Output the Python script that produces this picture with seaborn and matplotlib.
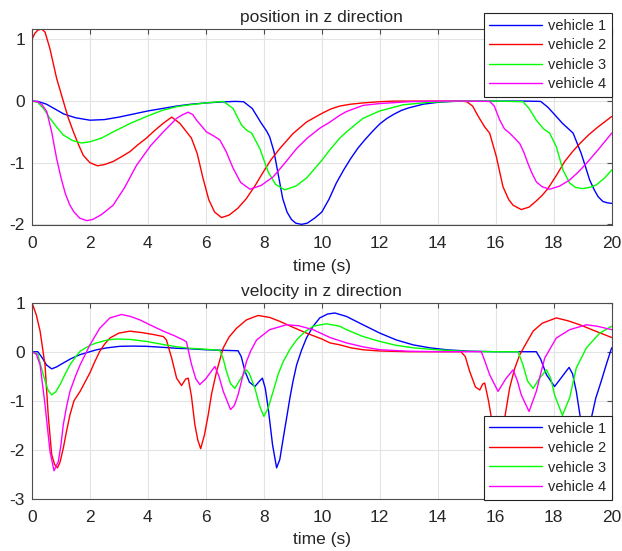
import pandas as pd
import seaborn as sns
import matplotlib
matplotlib.use("Agg")
import matplotlib.pyplot as plt

vehicles = ["vehicle 1", "vehicle 2", "vehicle 3", "vehicle 4"]
colors = ["#0000ff", "#ff0000", "#00ff00", "#ff00ff"]

# position in z direction
pos_t1 = [0, 0.2, 0.5, 0.8, 1.1, 1.5, 2.0, 2.5, 3.0, 3.5, 4.0, 4.5, 5.0, 5.5, 6.0, 6.5, 7.0, 7.3,
          7.6, 7.9, 8.1, 8.2, 8.35, 8.5, 8.65, 8.8, 8.95, 9.1, 9.3, 9.5, 9.75, 10.0, 10.25, 10.5,
          10.75, 11.0, 11.25, 11.5, 11.75, 12.0, 12.25, 12.5, 12.75, 13.0, 13.5, 14.0, 14.5, 15.0,
          16.0, 17.0, 17.55, 17.8, 18.09, 18.3, 18.44, 18.67, 18.95, 19.1, 19.24, 19.4, 19.53,
          19.7, 19.85, 20.0]
pos_v1 = [0, -0.005, -0.05, -0.13, -0.21, -0.27, -0.31, -0.30, -0.26, -0.21, -0.16, -0.12, -0.08,
          -0.05, -0.03, -0.015, -0.005, -0.01, -0.12, -0.35, -0.49, -0.58, -0.82, -1.2, -1.58,
          -1.8, -1.92, -1.98, -2.0, -1.98, -1.9, -1.8, -1.59, -1.33, -1.12, -0.93, -0.76, -0.62,
          -0.49, -0.37, -0.28, -0.21, -0.15, -0.11, -0.05, -0.02, -0.005, 0, 0, 0, -0.005, -0.1,
          -0.25, -0.36, -0.42, -0.52, -0.85, -1.07, -1.28, -1.44, -1.55, -1.63, -1.65, -1.66]

pos_t2 = [0, 0.1, 0.2, 0.33, 0.45, 0.62, 0.85, 1.08, 1.25, 1.43, 1.6, 1.77, 2.0, 2.26, 2.5, 2.8,
          3.1, 3.38, 3.65, 3.95, 4.25, 4.53, 4.82, 5.1, 5.3, 5.5, 5.7, 5.9, 6.1, 6.3, 6.54, 6.8,
          7.1, 7.4, 7.7, 7.98, 8.25, 8.55, 9.0, 9.47, 10.0, 10.3, 10.62, 11.0, 11.42, 12.0, 12.5,
          14.8, 15.0, 15.2, 15.4, 15.62, 15.79, 16.02, 16.25, 16.45, 16.6, 16.88, 17.15, 17.4,
          17.6, 17.8, 18.1, 18.38, 18.65, 18.9, 19.2, 19.5, 19.75, 20.0]
pos_v2 = [1.0, 1.1, 1.15, 1.17, 1.12, 0.85, 0.37, 0.0, -0.27, -0.5, -0.7, -0.88, -1.0, -1.05,
          -1.03, -0.98, -0.9, -0.82, -0.71, -0.6, -0.47, -0.36, -0.26, -0.36, -0.48, -0.6, -0.85,
          -1.25, -1.6, -1.8, -1.89, -1.85, -1.74, -1.58, -1.37, -1.15, -0.95, -0.77, -0.53, -0.34,
          -0.2, -0.13, -0.08, -0.05, -0.03, -0.01, 0, 0, -0.01, -0.08, -0.25, -0.42, -0.52, -0.9,
          -1.39, -1.6, -1.69, -1.76, -1.72, -1.62, -1.53, -1.42, -1.2, -0.98, -0.82, -0.69, -0.55,
          -0.43, -0.34, -0.25]

pos_t3 = [0, 0.2, 0.4, 0.62, 0.85, 1.08, 1.4, 1.71, 2.0, 2.4, 2.8, 3.4, 3.95, 4.5, 5.0, 5.45, 6.0,
          6.6, 6.94, 7.23, 7.4, 7.58, 7.86, 8.15, 8.4, 8.72, 9.1, 9.47, 10.0, 10.28, 10.62, 10.85,
          11.42, 12.0, 12.8, 13.7, 14.5, 15.0, 16.0, 16.94, 17.15, 17.4, 17.65, 17.86, 18.09,
          18.32, 18.55, 18.75, 19.0, 19.25, 19.47, 19.75, 20.0]
pos_v3 = [0, -0.02, -0.12, -0.28, -0.42, -0.55, -0.64, -0.68, -0.66, -0.6, -0.5, -0.36, -0.25,
          -0.15, -0.09, -0.06, -0.03, -0.005, -0.12, -0.39, -0.47, -0.52, -0.77, -1.15, -1.35,
          -1.44, -1.38, -1.25, -0.96, -0.79, -0.6, -0.5, -0.28, -0.16, -0.06, -0.02, -0.005, 0, 0,
          -0.01, -0.12, -0.31, -0.45, -0.52, -0.74, -1.12, -1.33, -1.4, -1.42, -1.4, -1.36, -1.25,
          -1.12]

pos_t4 = [0, 0.2, 0.35, 0.51, 0.68, 0.85, 1.0, 1.15, 1.3, 1.45, 1.65, 1.89, 2.1, 2.4, 2.8, 3.2,
          3.61, 4.1, 4.53, 4.99, 5.2, 5.39, 5.55, 5.68, 6.02, 6.25, 6.48, 6.7, 6.94, 7.2, 7.52,
          7.9, 8.32, 8.7, 9.13, 9.5, 9.93, 10.28, 10.62, 10.85, 11.42, 12.0, 13.0, 14.0, 15.0,
          15.79, 15.95, 16.14, 16.3, 16.48, 16.65, 16.83, 16.97, 17.11, 17.25, 17.4, 17.6, 17.86,
          18.2, 18.55, 18.85, 19.13, 19.55, 20.0]
pos_v4 = [0, -0.01, -0.06, -0.17, -0.5, -0.93, -1.24, -1.5, -1.68, -1.8, -1.9, -1.94, -1.92,
          -1.84, -1.69, -1.4, -1.04, -0.72, -0.5, -0.28, -0.22, -0.18, -0.22, -0.31, -0.5, -0.56,
          -0.63, -0.82, -1.09, -1.32, -1.43, -1.37, -1.23, -1.02, -0.77, -0.6, -0.44, -0.34, -0.23,
          -0.17, -0.07, -0.04, -0.01, 0, 0, -0.005, -0.08, -0.31, -0.45, -0.52, -0.6, -0.69, -0.83,
          -1.01, -1.17, -1.31, -1.39, -1.43, -1.38, -1.28, -1.15, -1.01, -0.78, -0.52]

# velocity in z direction
vel_t1 = [0, 0.2, 0.35, 0.5, 0.68, 0.85, 1.08, 1.35, 1.66, 2.0, 2.23, 2.6, 3.03, 3.5, 3.95, 4.5,
          5.0, 5.45, 6.0, 6.5, 7.11, 7.22, 7.35, 7.5, 7.69, 7.85, 7.95, 8.05, 8.15, 8.3, 8.44,
          8.55, 8.67, 8.8, 8.9, 9.0, 9.13, 9.3, 9.47, 9.7, 9.93, 10.2, 10.45, 10.85, 11.42, 12.0,
          12.57, 13.15, 13.72, 14.3, 15.1, 16.0, 17.4, 17.55, 17.75, 18.03, 18.3, 18.53, 18.65,
          18.78, 18.92, 19.0, 19.1, 19.2, 19.3, 19.45, 19.64, 19.82, 20.0]
vel_v1 = [0, 0, -0.12, -0.27, -0.35, -0.31, -0.23, -0.14, -0.06, 0.0, 0.04, 0.08, 0.11, 0.115,
          0.11, 0.09, 0.07, 0.06, 0.04, 0.03, 0.02, -0.1, -0.4, -0.62, -0.71, -0.6, -0.54, -0.75,
          -1.15, -1.9, -2.37, -2.2, -1.76, -1.3, -0.94, -0.62, -0.27, 0.03, 0.28, 0.52, 0.69,
          0.77, 0.79, 0.72, 0.55, 0.38, 0.24, 0.14, 0.08, 0.04, 0.01, 0.0, 0.0, -0.15, -0.47,
          -0.71, -0.5, -0.32, -0.45, -0.81, -1.35, -1.8, -2.3, -2.0, -1.35, -0.95, -0.6, -0.25,
          0.08]

vel_t2 = [0, 0.15, 0.28, 0.45, 0.56, 0.68, 0.78, 0.88, 0.97, 1.08, 1.2, 1.31, 1.45, 1.66, 1.83,
          2.0, 2.17, 2.34, 2.5, 2.69, 3.0, 3.38, 3.8, 4.2, 4.53, 4.64, 4.73, 4.82, 4.99, 5.16,
          5.3, 5.39, 5.5, 5.62, 5.72, 5.82, 5.95, 6.08, 6.2, 6.37, 6.6, 6.8, 7.06, 7.4, 7.8, 8.2,
          8.55, 9.0, 9.47, 10.0, 10.28, 10.62, 11.0, 11.42, 12.0, 13.0, 14.8, 14.95, 15.1, 15.3,
          15.45, 15.55, 15.62, 15.75, 15.85, 16.0, 16.1, 16.2, 16.31, 16.48, 16.65, 16.83, 17.0,
          17.29, 17.6, 18.09, 18.5, 18.9, 19.4, 20.0]
vel_v2 = [1.0, 0.75, 0.42, -0.27, -1.29, -2.1, -2.3, -2.37, -2.25, -1.97, -1.6, -1.29, -1.0,
          -0.81, -0.62, -0.43, -0.2, 0.01, 0.15, 0.28, 0.38, 0.42, 0.39, 0.35, 0.31, 0.24, 0.05,
          -0.13, -0.54, -0.69, -0.56, -0.54, -0.9, -1.49, -1.8, -1.98, -1.7, -1.29, -0.85, -0.4,
          0.08, 0.3, 0.48, 0.65, 0.74, 0.7, 0.62, 0.5, 0.38, 0.26, 0.18, 0.14, 0.08, 0.04, 0.015,
          0.0, 0.0, -0.1, -0.4, -0.72, -0.78, -0.66, -0.64, -1.0, -1.35, -1.85, -1.95, -1.7,
          -1.35, -0.74, -0.35, -0.06, 0.12, 0.42, 0.58, 0.69, 0.63, 0.55, 0.43, 0.29]

vel_t3 = [0, 0.2, 0.39, 0.55, 0.68, 0.82, 0.97, 1.15, 1.31, 1.5, 1.66, 2.0, 2.23, 2.6, 2.92, 3.4,
          3.95, 4.5, 5.0, 5.45, 6.0, 6.48, 6.6, 6.71, 6.85, 7.0, 7.2, 7.4, 7.5, 7.69, 7.85, 8.0,
          8.15, 8.32, 8.5, 8.67, 8.9, 9.13, 9.4, 9.7, 10.16, 10.62, 10.85, 11.42, 12.0, 12.57,
          13.15, 13.95, 14.87, 16.0, 16.77, 16.94, 17.1, 17.29, 17.5, 17.75, 17.9, 18.03, 18.3,
          18.55, 18.78, 19.13, 19.59, 20.0]
vel_v3 = [0, -0.05, -0.47, -0.78, -0.88, -0.82, -0.67, -0.45, -0.27, -0.11, 0.01, 0.13, 0.18,
          0.24, 0.26, 0.25, 0.21, 0.15, 0.1, 0.07, 0.05, 0.03, -0.15, -0.4, -0.65, -0.75, -0.55,
          -0.37, -0.45, -0.74, -1.1, -1.32, -1.15, -0.81, -0.45, -0.2, 0.05, 0.24, 0.4, 0.52,
          0.57, 0.52, 0.45, 0.31, 0.21, 0.13, 0.08, 0.04, 0.01, 0.0, 0.0, -0.27, -0.6, -0.75,
          -0.55, -0.37, -0.55, -0.88, -1.3, -0.94, -0.33, 0.08, 0.38, 0.52]

vel_t4 = [0, 0.15, 0.28, 0.45, 0.62, 0.76, 0.91, 1.0, 1.08, 1.2, 1.31, 1.5, 1.66, 2.0, 2.34, 2.69,
          3.09, 3.4, 3.72, 4.1, 4.53, 4.9, 5.22, 5.33, 5.5, 5.65, 5.79, 6.0, 6.31, 6.45, 6.6, 6.85,
          6.98, 7.11, 7.25, 7.4, 7.55, 7.75, 8.2, 8.78, 9.2, 9.7, 10.28, 10.85, 11.42, 12.0, 13.0,
          14.0, 15.5, 15.6, 15.79, 16.08, 16.35, 16.6, 16.75, 16.88, 17.15, 17.4, 17.55, 17.69,
          18.09, 18.55, 19.13, 19.5, 20.0]
vel_v4 = [0, -0.05, -0.27, -1.08, -2.03, -2.43, -2.24, -1.9, -1.49, -1.1, -0.81, -0.5, -0.27,
          0.14, 0.48, 0.69, 0.76, 0.72, 0.65, 0.54, 0.42, 0.33, 0.24, 0.2, -0.25, -0.55, -0.67,
          -0.55, -0.3, -0.5, -0.81, -1.18, -1.1, -0.88, -0.55, -0.2, 0.02, 0.24, 0.45, 0.55, 0.53,
          0.45, 0.29, 0.18, 0.1, 0.04, 0.01, 0.0, 0.0, -0.15, -0.47, -0.81, -0.55, -0.37, -0.6,
          -0.88, -1.22, -0.81, -0.45, -0.13, 0.28, 0.45, 0.55, 0.52, 0.45]


def long_form(ts, vs):
    parts = []
    for name, t, v in zip(vehicles, ts, vs):
        parts.append(pd.DataFrame({"t": t, "z": v, "vehicle": name}))
    return pd.concat(parts, ignore_index=True)


pos_df = long_form([pos_t1, pos_t2, pos_t3, pos_t4], [pos_v1, pos_v2, pos_v3, pos_v4])
vel_df = long_form([vel_t1, vel_t2, vel_t3, vel_t4], [vel_v1, vel_v2, vel_v3, vel_v4])

sns.set_theme(style="white")
plt.rcParams["font.family"] = ["Liberation Sans", "DejaVu Sans"]
plt.rcParams["axes.unicode_minus"] = False

fig = plt.figure(figsize=(6.22, 5.51), dpi=100)
ax1 = fig.add_axes([0.0514, 0.5917, 0.932, 0.3557])
ax2 = fig.add_axes([0.0514, 0.0949, 0.932, 0.3557])

for ax, df, title, ylim, yticks in [
    (ax1, pos_df, "position in z direction", (-2.01, 1.17), [-2, -1, 0, 1]),
    (ax2, vel_df, "velocity in z direction", (-3, 1), [-3, -2, -1, 0, 1]),
]:
    sns.lineplot(data=df, x="t", y="z", hue="vehicle", palette=colors, estimator=None,
                 sort=False, linewidth=1.0, ax=ax)
    ax.set_xlim(0, 20)
    ax.set_ylim(*ylim)
    ax.set_xticks(range(0, 21, 2))
    ax.set_yticks(yticks)
    ax.grid(True, color="#e3e3e3", linewidth=0.8)
    ax.set_axisbelow(True)
    for s in ax.spines.values():
        s.set_color("#4d4d4d")
        s.set_linewidth(0.8)
    ax.tick_params(direction="in", top=True, right=True, length=3.5, width=0.8,
                   color="#4d4d4d", labelsize=12.5)
    ax.tick_params(axis="x", pad=8)
    ax.tick_params(axis="y", pad=5)
    ax.set_title(title, fontsize=12.5, pad=5)
    ax.set_xlabel("time (s)", fontsize=12.5, labelpad=5.5)
    ax.set_ylabel("")
    ax.get_legend().remove()

leg_kw = dict(fontsize=10.5, frameon=True, fancybox=False, framealpha=1, edgecolor="#222222",
              handlelength=3.6, handletextpad=0.4, borderpad=0.4, labelspacing=0.38,
              borderaxespad=0)
h, l = ax1.get_legend_handles_labels()
leg1 = fig.legend(h, l, loc="upper right", bbox_to_anchor=(0.9834, 0.9764), **leg_kw)
leg2 = fig.legend(h, l, loc="lower right", bbox_to_anchor=(0.9834, 0.0926), **leg_kw)
for leg in (leg1, leg2):
    leg.get_frame().set_linewidth(0.8)

fig.savefig("out.png", dpi=100)
